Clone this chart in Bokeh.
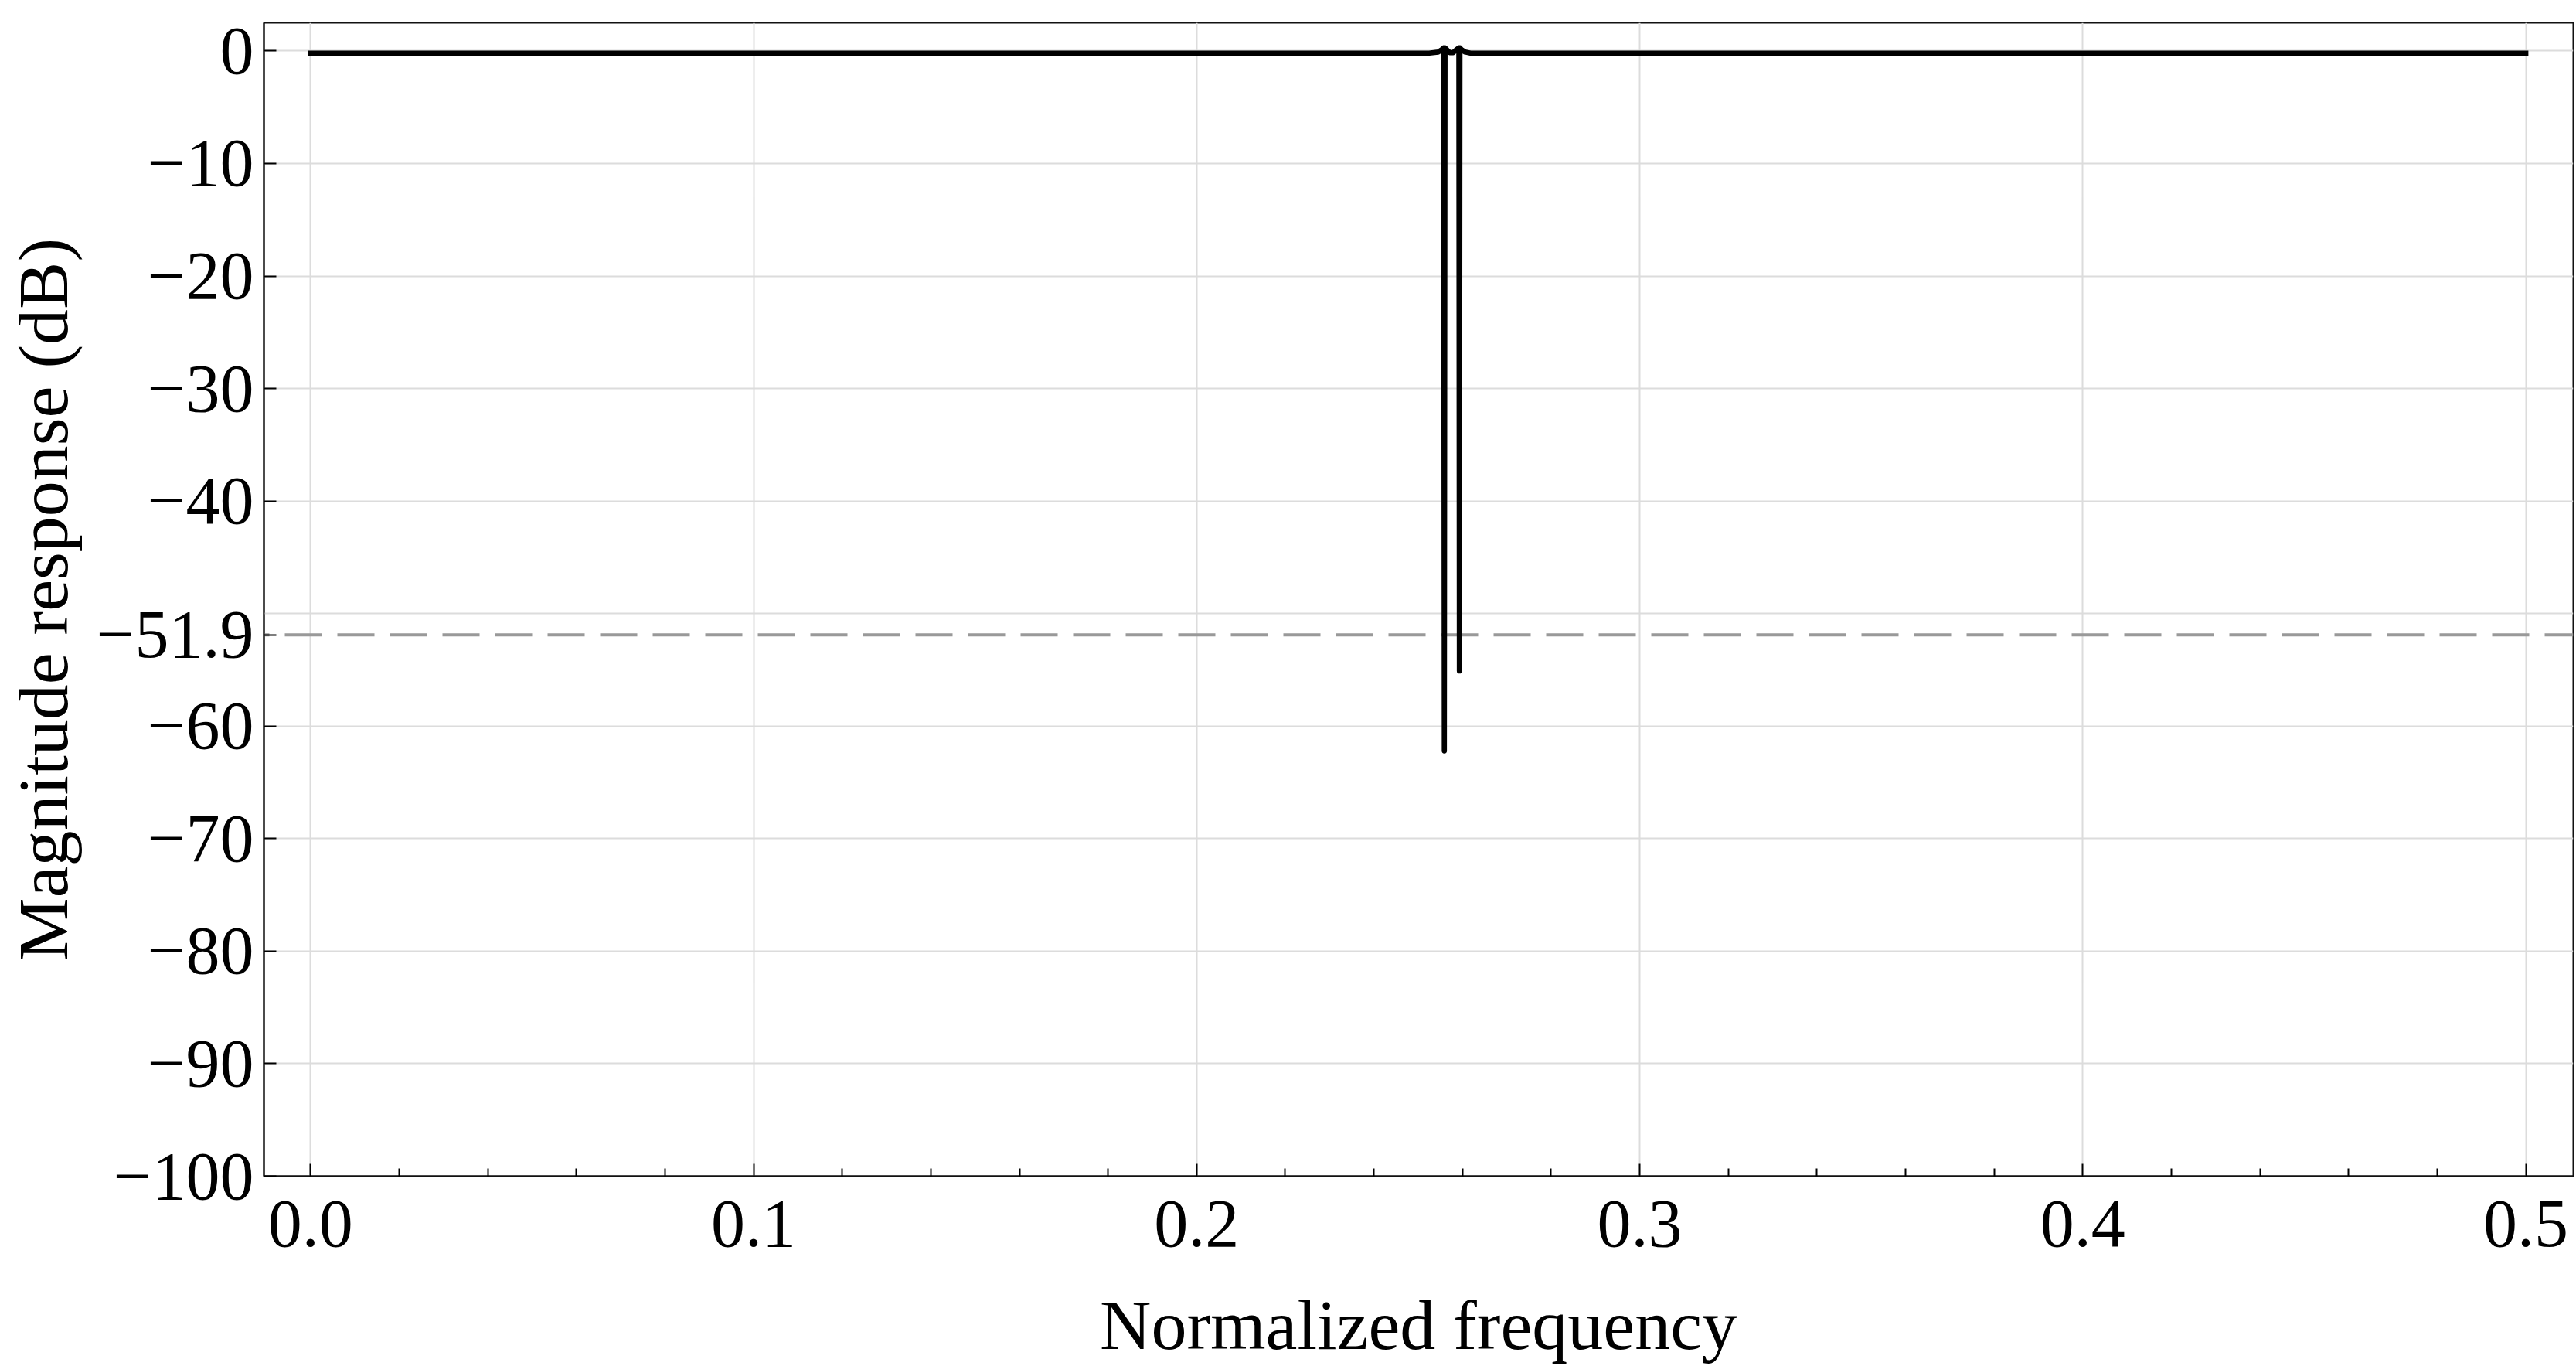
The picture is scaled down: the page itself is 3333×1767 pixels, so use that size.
from bokeh.plotting import figure
from bokeh.models import FixedTicker, CustomJSTickFormatter, Span, Range1d
from bokeh.embed import file_html
from bokeh.resources import INLINE

# ---- data ----
FREQ = [0.0, 0.2525, 0.2545, 0.2553, 0.25575, 0.2559, 0.25605, 0.2565,
        0.2571, 0.2579, 0.2586, 0.25918, 0.2593, 0.25942, 0.2598, 0.2606,
        0.2618, 0.5]
MAG_DB = [-0.2, -0.2, -0.1, 0.1, 0.27, -62.2, 0.27, 0.1,
          -0.15, -0.15, 0.1, 0.27, -55.1, 0.27, 0.1, -0.1,
          -0.2, -0.2]
THRESHOLD_DB = -51.9

X_TICKS = [0.0, 0.1, 0.2, 0.3, 0.4, 0.5]
X_MINOR = [0.02, 0.04, 0.06, 0.08, 0.12, 0.14, 0.16, 0.18, 0.22, 0.24, 0.26, 0.28,
           0.32, 0.34, 0.36, 0.38, 0.42, 0.44, 0.46, 0.48]
Y_TICKS = [0, -10, -20, -30, -40, -51.9, -60, -70, -80, -90, -100]
Y_GRID = [0, -10, -20, -30, -40, -50, -60, -70, -80, -90, -100]
X_LABEL = "Normalized frequency"
Y_LABEL = "Magnitude response (dB)"

FONT = "Liberation Serif"

p = figure(width=3333, height=1767, output_backend="svg", toolbar_location=None,
           x_range=Range1d(-0.01052, 0.51072), y_range=Range1d(-100, 2.5),
           min_border_left=341, min_border_right=4, min_border_top=29,
           min_border_bottom=244)
p.background_fill_color = "white"
p.border_fill_color = "white"
p.outline_line_color = "#111111"
p.outline_line_width = 2

# grid
p.xgrid.ticker = FixedTicker(ticks=X_TICKS)
p.ygrid.ticker = FixedTicker(ticks=Y_GRID)
for g in (p.xgrid, p.ygrid):
    g.grid_line_color = "#dcdcdc"
    g.grid_line_width = 2

# threshold line
span = Span(location=THRESHOLD_DB, dimension="width", line_color="#999999",
            line_width=4, line_dash="48 20", line_dash_offset=41, level="underlay")
p.add_layout(span)

# response curve
p.line(FREQ, MAG_DB, line_color="black", line_width=6.7, line_join="round",
       line_cap="square")

# axes
p.xaxis.ticker = FixedTicker(ticks=X_TICKS, minor_ticks=X_MINOR)
p.yaxis.ticker = FixedTicker(ticks=Y_TICKS)
p.xaxis.formatter = CustomJSTickFormatter(code="return tick.toFixed(1);")
p.yaxis.formatter = CustomJSTickFormatter(code="""
const a = Math.abs(tick);
const s = Math.abs(a - Math.round(a)) < 1e-9 ? a.toFixed(0) : a.toFixed(1);
return (tick < -1e-9 ? '−' : '') + s;
""")

for ax in (p.xaxis[0], p.yaxis[0]):
    ax.axis_line_color = "#111111"
    ax.axis_line_width = 2
    ax.major_tick_in = 16
    ax.major_tick_out = 0
    ax.minor_tick_in = 10
    ax.minor_tick_out = 0
    ax.major_tick_line_width = 2
    ax.minor_tick_line_width = 2
    ax.major_tick_line_color = "black"
    ax.minor_tick_line_color = "black"
    ax.major_label_text_font = FONT
    ax.major_label_text_font_size = "88px"
    ax.major_label_text_color = "black"
    ax.axis_label_text_font = FONT
    ax.axis_label_text_font_size = "92px"
    ax.axis_label_text_font_style = "normal"
    ax.axis_label_text_color = "black"

p.yaxis.minor_tick_line_color = None
p.xaxis.axis_label = X_LABEL
p.yaxis.axis_label = Y_LABEL
p.xaxis.major_label_standoff = 32
p.yaxis.major_label_standoff = 13
p.xaxis.axis_label_standoff = 48
p.yaxis.axis_label_standoff = 15

open("out.html", "w").write(file_html(p, INLINE))
